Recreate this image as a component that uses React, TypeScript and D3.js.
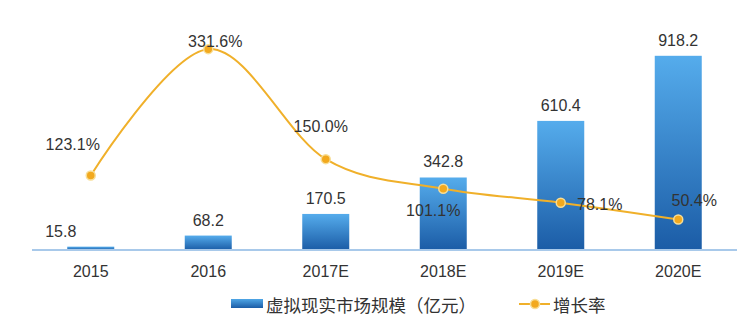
import React from "react";
import * as d3 from "d3";

const categories = ["2015", "2016", "2017E", "2018E", "2019E", "2020E"];
const marketSize = [15.8, 68.2, 170.5, 342.8, 610.4, 918.2];
const growthRate = [123.1, 331.6, 150.0, 101.1, 78.1, 50.4];
const barLegend = "虚拟现实市场规模（亿元）";
const lineLegend = "增长率";

// layout offsets for labels (not data)
const rateLabelOffsets: [number, number][] = [
  [-18, -25],
  [7, -2],
  [-5, -27],
  [-10, 27],
  [39, 7],
  [16, -13],
];
const barLabelDx = [-30, 0, 0, 0, 0, 0];

const W = 754;
const H = 319;
const baseY = 250;
const topY = 38;
const left = 32;
const right = 737;

const latin = "'Liberation Sans', Arial, sans-serif";
const cjk = "'Noto Sans CJK SC', 'Liberation Sans', sans-serif";

export default function App() {
  const x = d3.scalePoint<string>().domain(categories).range([left, right]).padding(0.5);
  const bw = x.step() * 0.4;
  const yBar = d3.scaleLinear().domain([0, 1000]).range([baseY, topY + 0.5]);
  const yLine = d3.scaleLinear().domain([0, 350]).range([baseY, topY]);

  const pts: [number, number][] = categories.map((c, i) => [x(c)!, yLine(growthRate[i])]);
  const linePath = d3.line().curve(d3.curveCardinal.tension(0))(pts) || "";

  return (
    <div style={{ position: "absolute", left: 0, top: 0 }}>
      <svg width={W} height={H} style={{ display: "block", background: "#fff" }}>
        <defs>
          <linearGradient id="barGrad" x1="0" y1="0" x2="0" y2="1">
            <stop offset="0%" stopColor="#55ACEC" />
            <stop offset="100%" stopColor="#1B5CA6" />
          </linearGradient>
          <linearGradient id="legGrad" x1="0" y1="0" x2="0" y2="1">
            <stop offset="0%" stopColor="#4FA6E6" />
            <stop offset="100%" stopColor="#1B5CA6" />
          </linearGradient>
        </defs>

        {categories.map((c, i) => {
          const y0 = yBar(marketSize[i]);
          return (
            <rect
              key={"b" + c}
              x={x(c)! - bw / 2}
              y={y0}
              width={bw}
              height={baseY - y0}
              fill="url(#barGrad)"
            />
          );
        })}

        <line x1={left} x2={right} y1={baseY} y2={baseY} stroke="#A8C9EA" strokeWidth={2} />

        {categories.map((c, i) => (
          <text
            key={"bl" + c}
            x={x(c)! + barLabelDx[i]}
            y={yBar(marketSize[i]) - 10}
            textAnchor="middle"
            fontFamily={latin}
            fontSize={16}
            fill="#333"
          >
            {marketSize[i].toFixed(1)}
          </text>
        ))}

        <path d={linePath} fill="none" stroke="#F0B02A" strokeWidth={2} />
        {pts.map((p, i) => (
          <circle key={"d" + i} cx={p[0]} cy={p[1]} r={4.5} fill="#F2A91E" stroke="#F8DE96" strokeWidth={1.5} />
        ))}

        {pts.map((p, i) => (
          <text
            key={"rl" + i}
            x={p[0] + rateLabelOffsets[i][0]}
            y={p[1] + rateLabelOffsets[i][1]}
            textAnchor="middle"
            fontFamily={latin}
            fontSize={16}
            fill="#333"
          >
            {growthRate[i].toFixed(1) + "%"}
          </text>
        ))}

        {categories.map((c) => (
          <text
            key={"x" + c}
            x={x(c)!}
            y={277}
            textAnchor="middle"
            fontFamily={latin}
            fontSize={16}
            fill="#333"
          >
            {c}
          </text>
        ))}

        {/* legend */}
        <rect x={231} y={299} width={32} height={9} fill="url(#legGrad)" />
        <text x={266} y={304} dominantBaseline="central" fontFamily={cjk} fontSize={17.5} fill="#333">
          {barLegend}
        </text>
        <line x1={519} x2={550} y1={304} y2={304} stroke="#F0B02A" strokeWidth={2} />
        <circle cx={535} cy={304} r={4.5} fill="#F2A91E" stroke="#F8DE96" strokeWidth={1.5} />
        <text x={553} y={304} dominantBaseline="central" fontFamily={cjk} fontSize={17.5} fill="#333">
          {lineLegend}
        </text>
      </svg>
    </div>
  );
}
